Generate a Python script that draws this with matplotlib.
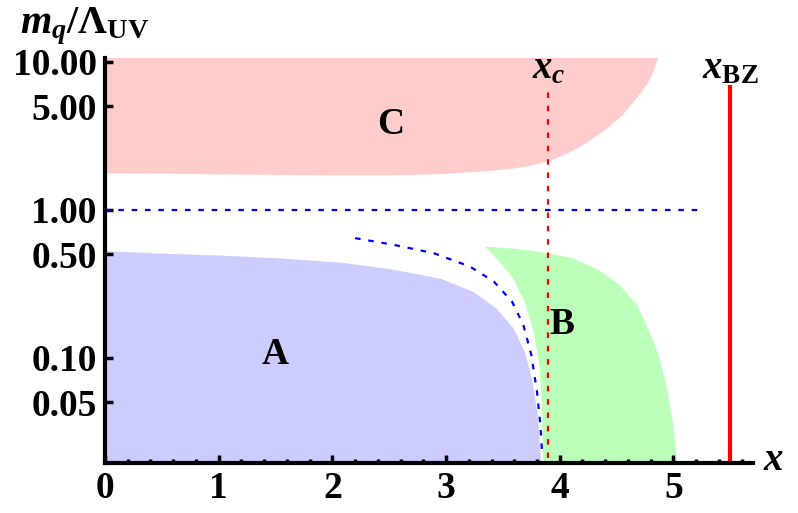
import matplotlib
matplotlib.use('Agg')
import matplotlib.pyplot as plt
import matplotlib.transforms as mtransforms
import numpy as np

# region A (blue): upper edge
a_x = [0.0, 0.5, 1.0, 1.5, 2.07, 2.51, 2.95, 3.24, 3.44, 3.59, 3.69, 3.75, 3.80, 3.83, 3.835]
a_y = [0.53, 0.51, 0.495, 0.475, 0.443, 0.40, 0.345, 0.28, 0.217, 0.159, 0.110, 0.073, 0.0434, 0.021, 0.019]

# region B (green): outline, left edge going up then top/right edge going down
b_x = [3.855, 3.84, 3.82, 3.77, 3.69, 3.59, 3.47, 3.34, 3.62, 3.90, 4.12, 4.35, 4.53,
       4.68, 4.79, 4.88, 4.95, 5.0, 5.03, 5.035]
b_y = [0.019, 0.053, 0.0897, 0.151, 0.24, 0.345, 0.448, 0.565, 0.545, 0.51, 0.47, 0.39, 0.31,
       0.228, 0.151, 0.0995, 0.059, 0.035, 0.021, 0.019]

# region C (pink): lower edge
c_x = [0.0, 1.0, 2.0, 2.5, 3.0, 3.4, 3.55, 3.7, 3.8, 3.9, 4.0, 4.1, 4.2, 4.3, 4.4, 4.47,
       4.55, 4.6, 4.68, 4.77, 4.82, 4.86]
c_y = [1.78, 1.75, 1.72, 1.72, 1.76, 1.85, 1.9, 1.97, 2.05, 2.15, 2.3, 2.5, 2.75, 3.1, 3.5,
       3.9, 4.4, 4.9, 5.8, 7.2, 8.6, 10.6]

# dashed blue curve
d_x = [2.20, 2.54, 2.89, 3.21, 3.42, 3.58, 3.68, 3.75, 3.80, 3.83, 3.846]
d_y = [0.644, 0.58, 0.51, 0.414, 0.328, 0.24, 0.167, 0.105, 0.059, 0.035, 0.022]

x_c = 3.9
x_bz = 5.5
yticks = [0.05, 0.1, 0.5, 1.0, 5.0, 10.0]
ytick_labels = ['0.05', '0.10', '0.50', '1.00', '5.00', '10.00']
xticks = [0, 1, 2, 3, 4, 5]

plt.rcParams['font.family'] = ['Liberation Serif', 'DejaVu Serif']
plt.rcParams['font.weight'] = 'bold'
plt.rcParams['mathtext.fontset'] = 'custom'
plt.rcParams['mathtext.rm'] = 'Liberation Serif:bold'
plt.rcParams['mathtext.bf'] = 'Liberation Serif:bold'
plt.rcParams['mathtext.it'] = 'Liberation Serif:italic:bold'

fig = plt.figure(figsize=(7.98, 5.13), dpi=100)
ax = fig.add_axes([105 / 798, 50 / 513, 648 / 798, 405 / 513])
ax.set_yscale('log')
ax.set_xlim(0, 5.7)
ax.set_ylim(0.0195, 10.6)

ax.fill_between(a_x, a_y, 1e-3, color='#ccccff', lw=0)
ax.fill(b_x, b_y, color='#bbffbb', lw=0)
ax.fill_between(c_x, c_y, 100, color='#ffcccc', lw=0)

ax.plot(d_x, d_y, color='#0000ff', lw=1.6, dashes=(2.5, 3.5))
ax.plot([0, 5.22], [1, 1], color='#0000ff', lw=1.6, dashes=(2.5, 3.5))
ax.plot([x_c, x_c], [0.021, 6.3], color='#ff0000', lw=1.6, dashes=(2.5, 3.5))
ax.plot([x_bz, x_bz], [0.0195, 6.7], color='#ff0000', lw=3)

ax.text(1.5, 0.105, 'A', fontsize=27, fontweight='bold', ha='center', va='center')
ax.text(4.02, 0.167, 'B', fontsize=27, fontweight='bold', ha='center', va='center')
ax.text(2.51, 3.75, 'C', fontsize=27, fontweight='bold', ha='center', va='center')

trans = mtransforms.blended_transform_factory(ax.transData, ax.transAxes)
ax.text(x_c, 0.951, r'$x_c$', fontsize=28, ha='center', va='baseline', transform=trans)
ax.text(x_bz, 0.951, r'$x_{\rm BZ}$', fontsize=28, ha='center', va='baseline', transform=trans)

fig.text(773 / 798, 1 - 470 / 513, r'$x$', fontsize=28, ha='center', va='baseline')
fig.text(20 / 798, 1 - 33 / 513, r'$m_q/\Lambda_{\rm UV}$', fontsize=29, ha='left', va='baseline')

for side in ['top', 'right']:
    ax.spines[side].set_visible(False)
for side in ['left', 'bottom']:
    ax.spines[side].set_linewidth(3)

ax.set_yticks(yticks)
ax.set_yticklabels(ytick_labels)
ax.yaxis.set_minor_locator(matplotlib.ticker.NullLocator())
ax.set_xticks(xticks)
ax.set_xticks(np.arange(0, 5.7, 0.2), minor=True)
ax.tick_params(axis='both', which='major', direction='in', length=6, width=2.5,
               labelsize=27, pad=6)
ax.tick_params(axis='x', which='minor', direction='in', length=3, width=2.5)
for lab in ax.get_xticklabels() + ax.get_yticklabels():
    lab.set_fontweight('bold')

fig.savefig('out.png', dpi=100)
